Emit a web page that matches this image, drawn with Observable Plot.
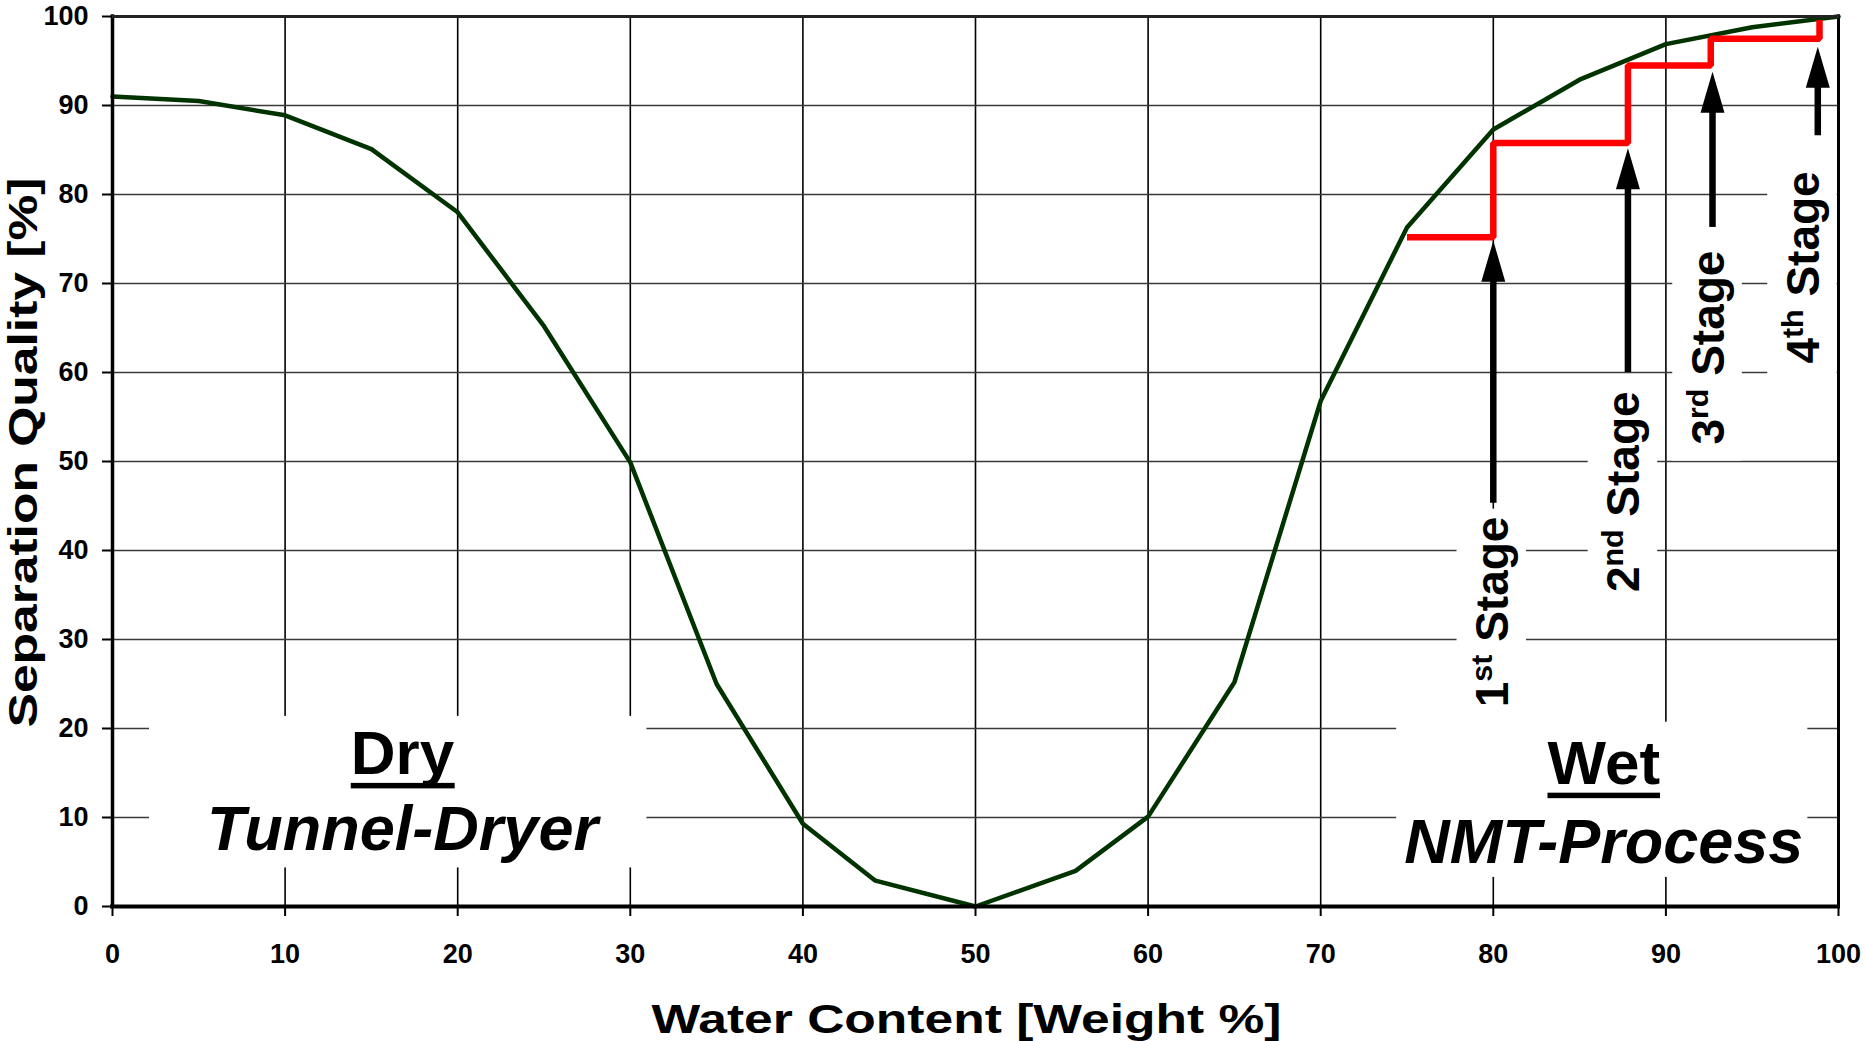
<!DOCTYPE html>
<html><head><meta charset="utf-8">
<script src="https://cdn.jsdelivr.net/npm/d3@7"></script>
<script src="https://cdn.jsdelivr.net/npm/@observablehq/plot@0.6"></script>
<style>
html,body{margin:0;padding:0;background:#fff;overflow:hidden;}
svg{display:block;}
</style></head><body><div id="chart"></div>
<script>
// ---- data ----
const waterContent = [0, 5, 10, 15, 20, 25, 30, 35, 40, 44.2, 50, 55.8, 60, 65, 70, 75, 80, 85, 90, 95, 100];
const separationQuality = [91.0, 90.5, 88.9, 85.1, 78.0, 65.2, 49.9, 25.0, 9.3, 2.9, 0, 4.0, 10.1, 25.2, 56.8, 76.3, 87.3, 92.9, 96.9, 98.8, 100];
const stepWater = [75, 80, 80, 87.8, 87.8, 92.6, 92.6, 98.9, 98.9];
const stepQuality = [75.2, 75.2, 85.8, 85.8, 94.5, 94.5, 97.5, 97.5, 99.6];
const stageNames = ["1st Stage", "2nd Stage", "3rd Stage", "4th Stage"];
const arrowWater = [80, 87.8, 92.7, 98.8];
const arrowTipQuality = [74.8, 85.2, 93.8, 96.6];
const arrowTailQuality = [45.3, 60, 76.3, 86.6];
const stageLabelWater = [80, 87.6, 92.5, 98];
const stageLabelQuality = [33.1, 46.6, 62.8, 71.8];
const regionTitles = ["Dry", "Wet"];
const regionProcesses = ["Tunnel-Dryer", "NMT-Process"];
const regionWater = [16.8, 86.4];
const regionTitleQuality = [14.9, 13.8];
const regionProcessQuality = [6.3, 4.9];
const xTicks = [0, 10, 20, 30, 40, 50, 60, 70, 80, 90, 100];
const yTicks = [0, 10, 20, 30, 40, 50, 60, 70, 80, 90, 100];
const xTitle = "Water Content [Weight %]";
const yTitle = "Separation Quality [%]";

const curve = waterContent.map((x, i) => ({x, y: separationQuality[i]}));
const steps = stepWater.map((x, i) => ({x, y: stepQuality[i]}));
const arrows = stageNames.map((name, i) => ({name, x: arrowWater[i], tip: arrowTipQuality[i], tail: arrowTailQuality[i]}));

const arrowHead = {draw(ctx) { ctx.moveTo(0, 0); ctx.lineTo(-12, 41); ctx.lineTo(12, 41); ctx.closePath(); }};
const FONT = "'Liberation Sans', Arial, Helvetica, sans-serif";

const svg = Plot.plot({
  width: 1865, height: 1041,
  marginLeft: 112, marginRight: 27, marginTop: 16, marginBottom: 135,
  x: {domain: [0, 100]},
  y: {domain: [0, 100]},
  style: {fontFamily: FONT, background: "#fff", color: "#000"},
  marks: [
    Plot.gridX(xTicks, {stroke: "#000", strokeOpacity: 1, strokeWidth: 1.6}),
    Plot.gridY(yTicks, {stroke: "#3a3a3a", strokeOpacity: 1, strokeWidth: 1.3}),
    Plot.text(regionTitles, {x: regionWater, y: regionTitleQuality, text: d => d, fontSize: 62, fontWeight: "bold", textAnchor: "middle", lineAnchor: "bottom", fill: "#000"}),
    Plot.text(regionProcesses, {x: regionWater, y: regionProcessQuality, text: d => d, fontSize: 63, fontWeight: "bold", fontStyle: "italic", textAnchor: "middle", lineAnchor: "bottom", fill: "#000"}),
    Plot.text(stageNames, {x: stageLabelWater, y: stageLabelQuality, text: d => d, rotate: -90, fontSize: 46, fontWeight: "bold", lineAnchor: "middle", fill: "#000"}),
    Plot.line(curve, {x: "x", y: "y", stroke: "#003300", strokeWidth: 4.5, strokeLinejoin: "miter"}),
    Plot.line(steps, {x: "x", y: "y", stroke: "#ff0000", strokeWidth: 6.5, strokeLinejoin: "miter", strokeLinecap: "butt"}),
    Plot.ruleX(arrows, {x: "x", y1: "tip", y2: "tail", stroke: "#000", strokeWidth: 6.5, insetTop: 38}),
    Plot.dot(arrows, {x: "x", y: "tip", symbol: arrowHead, r: 10, fill: "#000", stroke: "none"}),
    Plot.ruleX([0], {strokeWidth: 3.5, strokeLinecap: "square"}),
    Plot.ruleX([100], {strokeWidth: 3, strokeLinecap: "square"}),
    Plot.ruleY([0], {strokeWidth: 4, strokeLinecap: "square"}),
    Plot.ruleY([100], {strokeWidth: 3, strokeLinecap: "square", stroke: "#222"}),
    Plot.axisX({ticks: xTicks, tickSize: 10, tickPadding: 27, fontSize: 27, fontWeight: "bold", strokeWidth: 2,
      tickFormat: d => String(d), label: xTitle, labelAnchor: "center", labelOffset: 126, labelArrow: "none"}),
    Plot.axisY({ticks: yTicks, tickSize: 10, tickPadding: 14, fontSize: 27, fontWeight: "bold", strokeWidth: 2,
      tickFormat: d => String(d), label: yTitle, labelAnchor: "center", labelOffset: 104, labelArrow: "none"})
  ]
});
document.getElementById("chart").append(svg);

// ---- post-processing: superscripts, underlines, text boxes, stretched titles ----
const NS = "http://www.w3.org/2000/svg";
const texts = () => [...svg.querySelectorAll("text")];
const find = t => texts().find(e => e.textContent === t);

texts().forEach(el => {
  const m = el.textContent.match(/^(\d+)(st|nd|rd|th) (.*)$/);
  if (!m) return;
  el.textContent = "";
  const a = document.createElementNS(NS, "tspan"); a.textContent = m[1];
  const b = document.createElementNS(NS, "tspan"); b.textContent = m[2];
  b.setAttribute("font-size", "66%"); b.setAttribute("baseline-shift", "super");
  const c = document.createElementNS(NS, "tspan"); c.textContent = " " + m[3];
  el.append(a, b, c);
});

[xTitle, yTitle].forEach((t, i) => {
  const el = find(t);
  if (!el) return;
  el.setAttribute("font-size", 40);
  el.setAttribute("font-weight", "bold");
  el.setAttribute("textLength", i === 0 ? 630 : 550);
  el.setAttribute("lengthAdjust", "spacingAndGlyphs");
  el.setAttribute("dx", i === 0 ? -9 : 9);
});

regionTitles.forEach(t => {
  const el = find(t); if (!el) return;
  const bb = el.getBBox();
  const r = document.createElementNS(NS, "rect");
  r.setAttribute("x", bb.x); r.setAttribute("width", bb.width);
  r.setAttribute("y", 9); r.setAttribute("height", 5.5);
  r.setAttribute("fill", "#000");
  if (el.getAttribute("transform")) r.setAttribute("transform", el.getAttribute("transform"));
  el.parentNode.insertBefore(r, el.nextSibling);
});

const groups = [
  {members: ["Dry", "Tunnel-Dryer"], pad: [2, 45, 4, 58]},
  {members: ["Wet", "NMT-Process"], pad: [6, 4, 1, 8]},
  ...stageNames.map(n => ({members: [n], pad: [8, 8, 16, 8]}))
];
const sr = svg.getBoundingClientRect();
const boxG = document.createElementNS(NS, "g");
groups.forEach(g => {
  let x0 = Infinity, y0 = Infinity, x1 = -Infinity, y1 = -Infinity;
  texts().filter(e => g.members.includes(e.textContent)).forEach(e => {
    const r = e.getBoundingClientRect();
    x0 = Math.min(x0, r.left - sr.left); y0 = Math.min(y0, r.top - sr.top);
    x1 = Math.max(x1, r.right - sr.left); y1 = Math.max(y1, r.bottom - sr.top);
  });
  if (!isFinite(x0)) return;
  const [pt, pr, pb, pl] = g.pad;
  const rect = document.createElementNS(NS, "rect");
  rect.setAttribute("x", x0 - pl); rect.setAttribute("y", y0 - pt);
  rect.setAttribute("width", x1 - x0 + pl + pr); rect.setAttribute("height", y1 - y0 + pt + pb);
  rect.setAttribute("fill", "#fff");
  boxG.append(rect);
});
const firstText = find("Dry").parentNode;
firstText.parentNode.insertBefore(boxG, firstText);
</script></body></html>
